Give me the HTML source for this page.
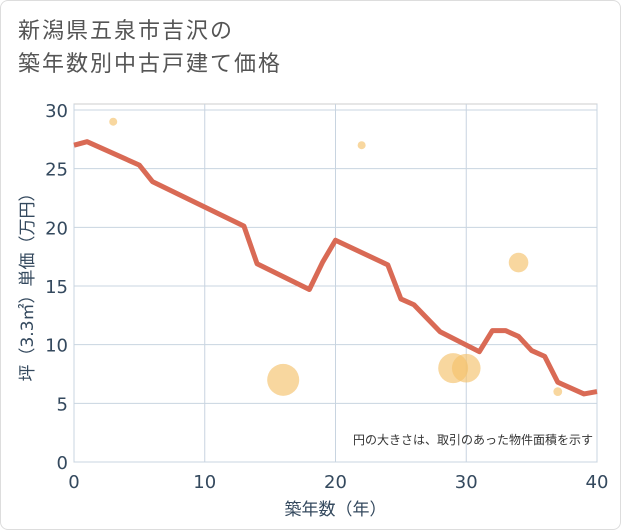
<!DOCTYPE html>
<html><head><meta charset="utf-8">
<style>
body{margin:0;background:#fff;}
#card{position:relative;width:619px;height:528px;border:1px solid #ddd;border-radius:8px;background:#fff;font-family:"DejaVu Sans","Noto Sans CJK JP",sans-serif;overflow:hidden}
#title{position:absolute;left:17px;top:14px;font-size:22px;line-height:33px;color:#555;letter-spacing:2px}
</style></head>
<body>
<div id="card">
<div id="title">新潟県五泉市吉沢の<br>築年数別中古戸建て価格</div>
<svg id="chart" width="621" height="530" style="position:absolute;left:0;top:0"></svg>
</div>
<script>
const lineYears=[0,1,5,6,13,14,18,19,20,24,25,26,28,31,32,33,34,35,36,37,39,40];
const linePrices=[27,27.3,25.3,23.9,20.1,16.9,14.7,17,18.9,16.8,13.9,13.4,11.1,9.4,11.2,11.2,10.7,9.5,9,6.8,5.8,6];
const bubbleYears=[3,22,16,29,30,34,37];
const bubblePrices=[29,27,7,8,8,17,6];
const bubbleSizes=[1,1,4,3.5,3.2,1.5,1.2];
const xTicks=[0,10,20,30,40];
const yTicks=[0,5,10,15,20,25,30];
const NS="http://www.w3.org/2000/svg";
const svg=document.getElementById('chart');
const L=73,R=596,T=103,B=461;
const TXT='#34495e';
const xs=v=>L+(v/40)*(R-L);
const ys=v=>B-(v/30)*(B-109);
function mk(t,a){const e=document.createElementNS(NS,t);for(const k in a)e.setAttribute(k,a[k]);svg.appendChild(e);return e;}
const bg=mk('rect',{x:L,y:T,width:R-L,height:B-T,fill:'#fff',stroke:'#ccc'});


xTicks.forEach(v=>{
 const g=mk('line',{x1:xs(v),x2:xs(v),y1:T,y2:B,stroke:'#c8d4e0'});
 
 
 const t=mk('text',{x:xs(v),y:B+26,'text-anchor':'middle','font-size':18,fill:TXT});t.textContent=v;
 
 
});
yTicks.forEach(v=>{
 const g=mk('line',{x1:L,x2:R,y1:ys(v),y2:ys(v),stroke:'#c8d4e0'});
 
 
 const t=mk('text',{x:L-6,y:ys(v)+7,'text-anchor':'end','font-size':18,fill:TXT});t.textContent=v;
 
 
});
bubbleYears.forEach((y,i)=>{
 const c=mk('circle',{cx:xs(y),cy:ys(bubblePrices[i]),fill:'#f5c26b',opacity:0.65});
 c.setAttribute('r',Math.sqrt(bubbleSizes[i])*8*(bubbleSizes[i]>1.3?1:0.5));
 
 
});
const pl=mk('polyline',{points:lineYears.map((y,i)=>xs(y)+','+ys(linePrices[i])).join(' '),fill:'none',stroke:'#d96a55','stroke-width':5,'stroke-linejoin':'round'});


const xt=mk('text',{x:(L+R)/2,y:514,'text-anchor':'middle','font-size':17,fill:TXT});xt.textContent='築年数（年）';


const yt=mk('text',{x:0,y:0,'text-anchor':'middle','font-size':17,fill:TXT,transform:'translate(32,'+((T+B)/2)+') rotate(-90)'});yt.textContent='坪（3.3㎡）単価（万円）';


const nt=mk('text',{x:592,y:443,'text-anchor':'end','font-size':12,fill:'#333'});nt.textContent='円の大きさは、取引のあった物件面積を示す';


</script>
</body></html>
